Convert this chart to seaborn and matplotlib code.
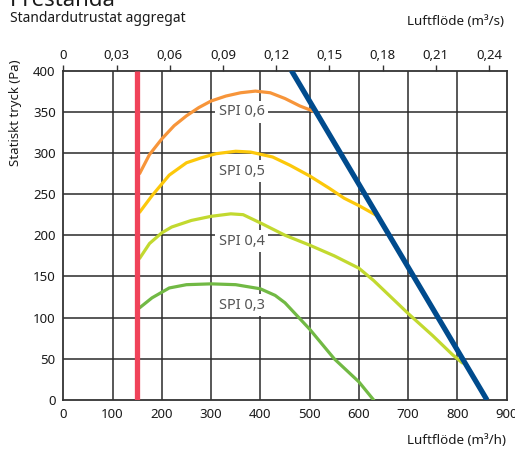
import matplotlib
matplotlib.use("Agg")
import matplotlib.pyplot as plt
import seaborn as sns
import pandas as pd

# SPI curves (airflow m3/h, static pressure Pa)
spi06_x = [155, 175, 200, 225, 250, 275, 300, 330, 360, 390, 420, 450, 480, 510]
spi06_y = [275, 298, 317, 333, 345, 355, 363, 369, 373, 375, 373, 366, 357, 350]

spi05_x = [155, 180, 215, 250, 280, 310, 350, 380, 425, 460, 500, 540, 570, 600, 636]
spi05_y = [228, 248, 273, 288, 294, 299, 302, 301, 295, 285, 272, 257, 245, 236, 224]

spi04_x = [155, 175, 200, 220, 260, 300, 340, 365, 400, 450, 500, 550, 600, 630, 665, 700, 750, 790, 810]
spi04_y = [172, 190, 203, 210, 218, 223, 226, 225, 215, 200, 188, 175, 160, 145, 125, 105, 78, 55, 45]

spi03_x = [155, 180, 215, 250, 300, 350, 400, 430, 450, 500, 550, 600, 630]
spi03_y = [112, 124, 136, 140, 141, 140, 135, 127, 118, 86, 50, 22, 0]

min_flow_x = [150, 150]
min_flow_y = [0, 400]
max_line_x = [463, 860]
max_line_y = [400, 0]

spi_labels = ["SPI 0,6", "SPI 0,5", "SPI 0,4", "SPI 0,3"]
label_y = [350, 278, 193, 115]
label_x = 362

top_ticks = [0, 0.03, 0.06, 0.09, 0.12, 0.15, 0.18, 0.21, 0.24]

colors = {"SPI 0,6": "#f7953a", "SPI 0,5": "#fcc80a",
          "SPI 0,4": "#c2d92f", "SPI 0,3": "#71b944"}

rows = []
for name, xs, ys in [("SPI 0,6", spi06_x, spi06_y), ("SPI 0,5", spi05_x, spi05_y),
                     ("SPI 0,4", spi04_x, spi04_y), ("SPI 0,3", spi03_x, spi03_y)]:
    for x, y in zip(xs, ys):
        rows.append({"flow": x, "pressure": y, "curve": name})
df = pd.DataFrame(rows)

sns.set_theme(style="white")
plt.rcParams["font.family"] = ["Noto Sans", "DejaVu Sans"]

fig = plt.figure(figsize=(5.15, 4.5), dpi=100)
ax = fig.add_axes([0.1229, 0.1111, 0.861, 0.7322])

for x in range(100, 900, 100):
    ax.axvline(x, color="#2a2a2a", lw=1.1, zorder=1)
for y in range(50, 400, 50):
    ax.axhline(y, color="#2a2a2a", lw=1.1, zorder=1)

sns.lineplot(data=df, x="flow", y="pressure", hue="curve", palette=colors,
             lw=2.3, sort=False, estimator=None, legend=False, ax=ax, zorder=3)
ax.plot(min_flow_x, min_flow_y, color="#f0435a", lw=3.8, zorder=4, solid_capstyle="butt")
ax.plot(max_line_x, max_line_y, color="#004b8d", lw=3.8, zorder=4, solid_capstyle="butt")

for lab, ly in zip(spi_labels, label_y):
    ax.text(label_x, ly, lab, ha="center", va="center", fontsize=10.5, color="#555555",
            zorder=2, bbox=dict(facecolor="white", edgecolor="none", pad=2.5))

ax.set_xlim(0, 900)
ax.set_ylim(0, 400)
ax.set_xticks(range(0, 1000, 100))
ax.set_yticks(range(0, 450, 50))
ax.tick_params(axis="both", labelsize=9.5, length=4, width=1, color="#333333",
               direction="out", pad=1.5, labelcolor="#1a1a1a")
ax.tick_params(axis="y", direction="inout", length=8)
for s in ax.spines.values():
    s.set_color("#333333")
    s.set_linewidth(1.3)
ax.set_xlabel("")
ax.set_ylabel("")

top = ax.secondary_xaxis("top", functions=(lambda v: v / 3600.0, lambda v: v * 3600.0))
top.set_xticks(top_ticks)
top.set_xticklabels(["0" if t == 0 else f"{t:.2f}".replace(".", ",") for t in top_ticks])
top.tick_params(labelsize=9.5, length=4, width=1, color="#333333", pad=2, labelcolor="#1a1a1a")
top.spines["top"].set_visible(False)

fig.text(0.02, 0.987, "Prestanda", fontsize=16, fontweight="bold", ha="left", va="baseline",
         color="#1a1a1a")
fig.text(0.02, 0.951, "Standardutrustat aggregat", fontsize=10, ha="left", va="baseline",
         color="#1a1a1a")
fig.text(0.978, 0.945, "Luftflöde (m³/s)", fontsize=9.7, ha="right", va="baseline",
         color="#1a1a1a")
fig.text(0.982, 0.014, "Luftflöde (m³/h)", fontsize=9.7, ha="right", va="baseline",
         color="#1a1a1a")
fig.text(0.031, 0.75, "Statiskt tryck (Pa)", fontsize=9.5, rotation=90, ha="center",
         va="center", color="#1a1a1a")

fig.savefig("out.png", dpi=100)
